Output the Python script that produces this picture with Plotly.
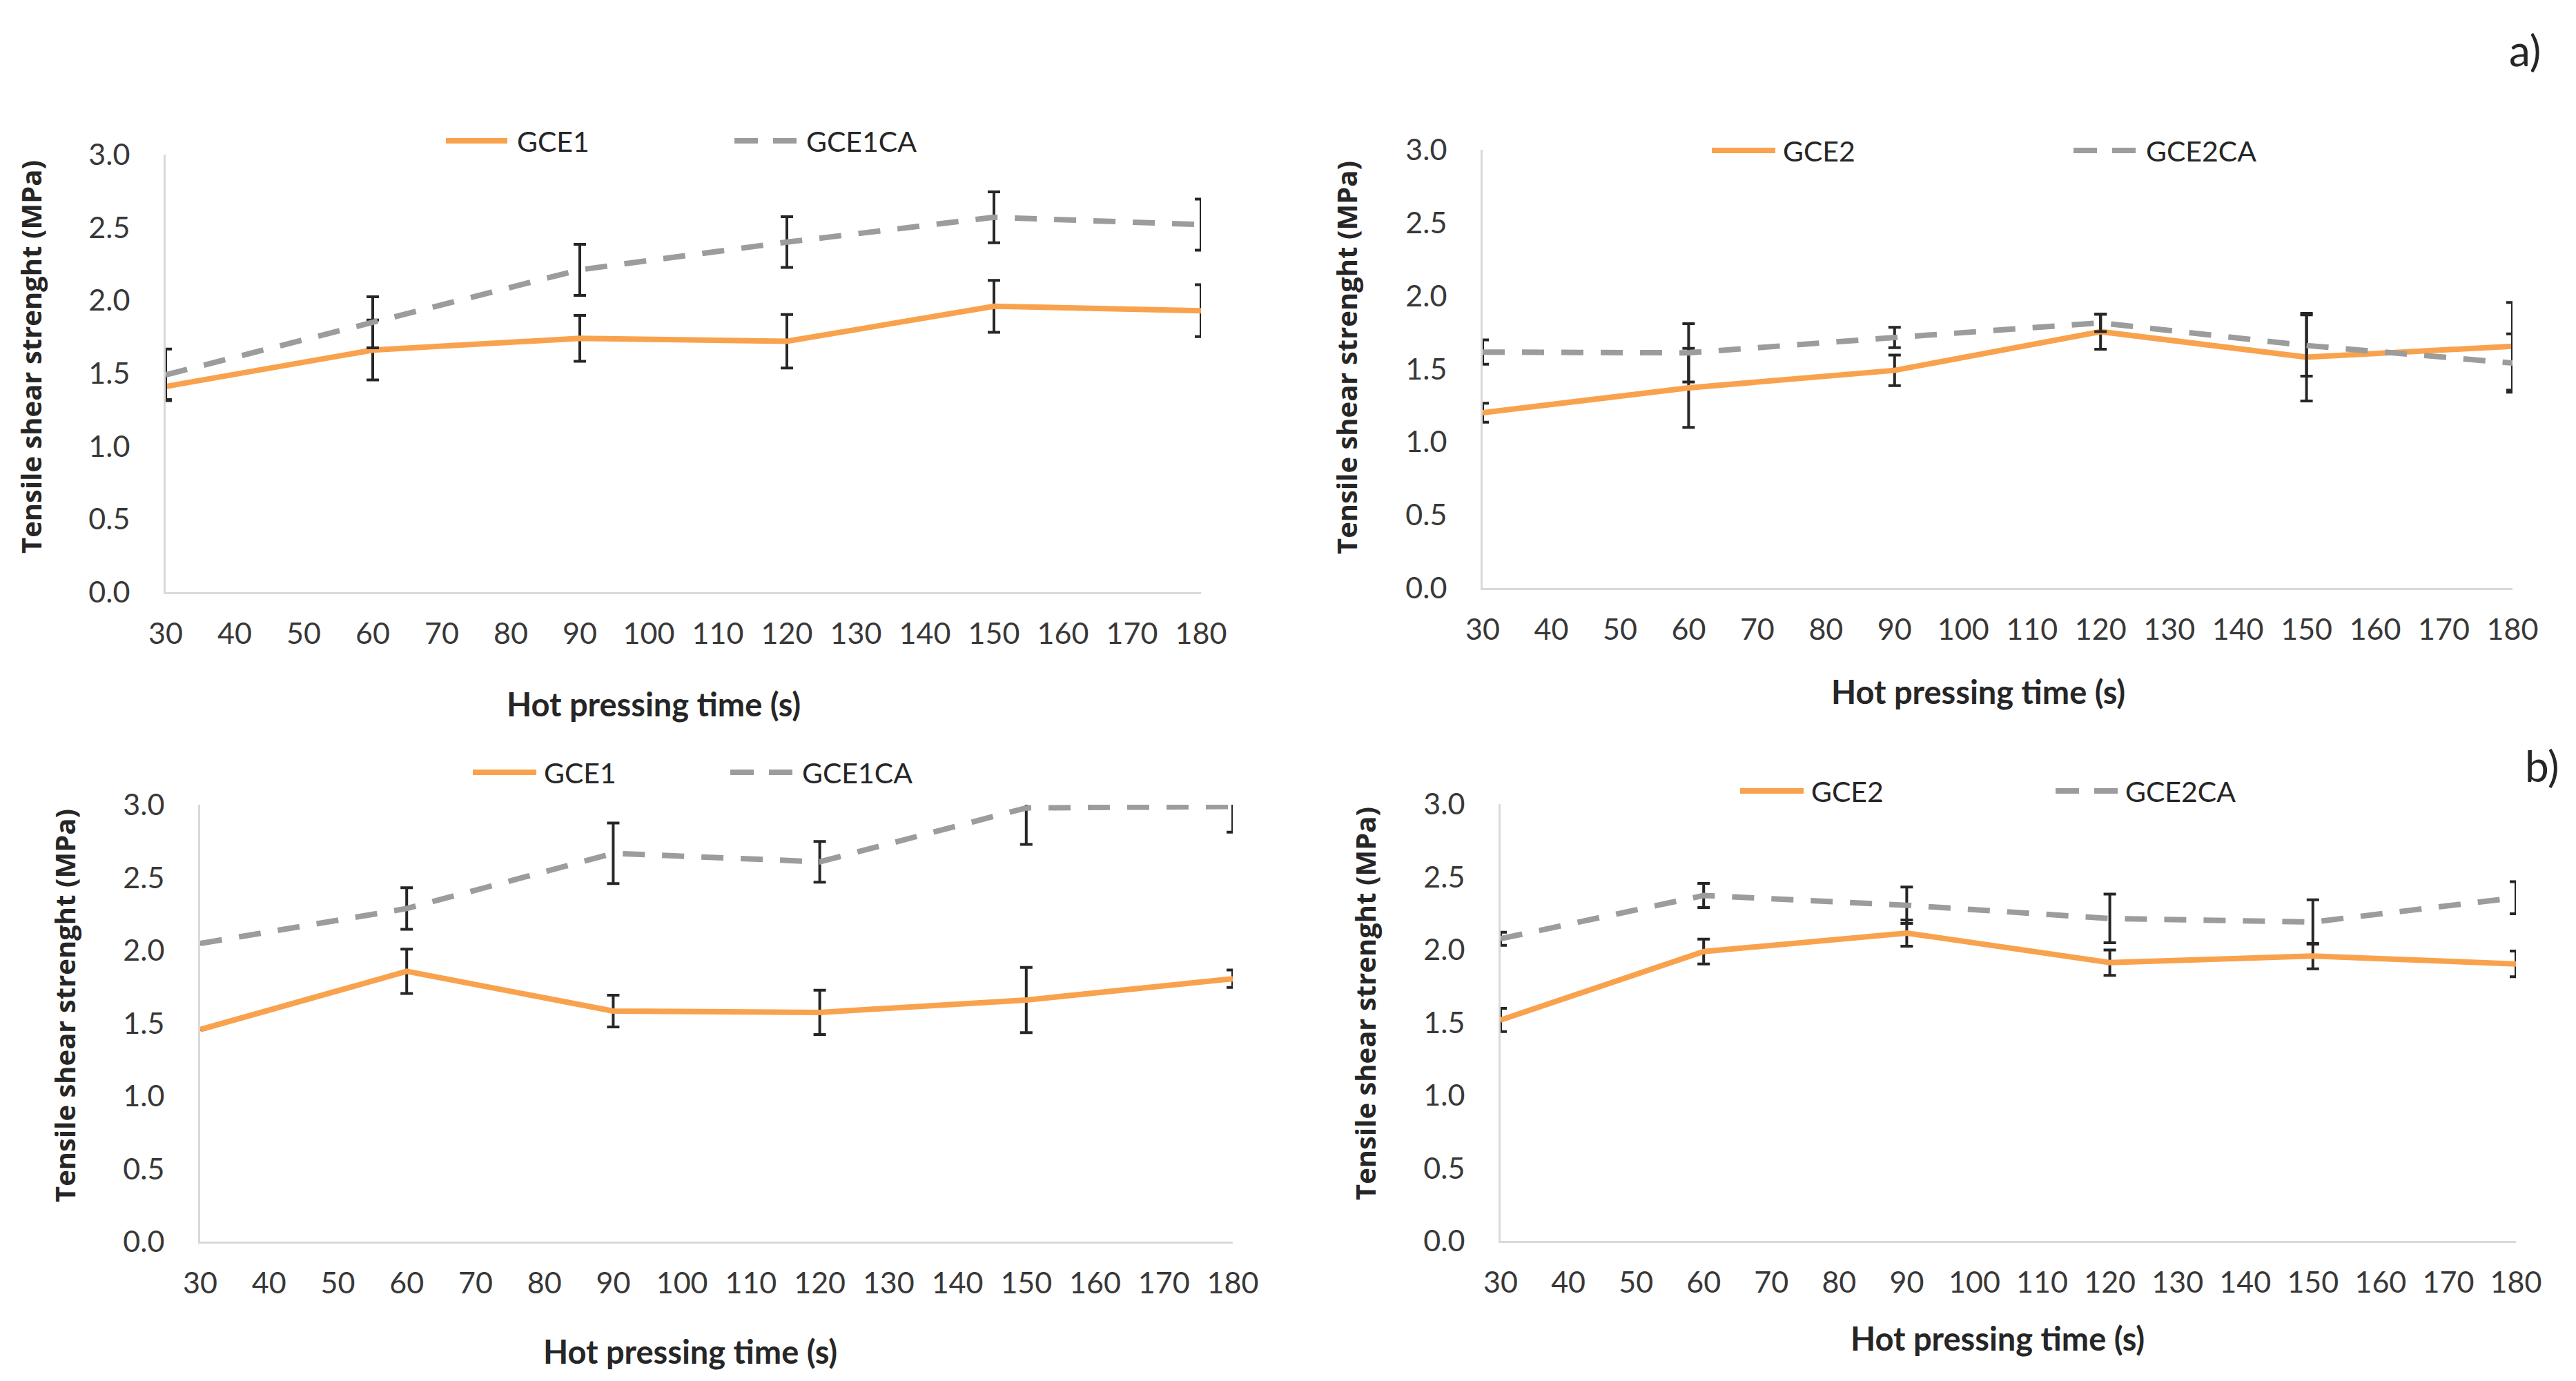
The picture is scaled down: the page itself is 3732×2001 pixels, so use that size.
import plotly.graph_objects as go

W, H = 3732, 2001

# ---------------- data ----------------
hot_time = [30, 60, 90, 120, 150, 180]
x_ticks = [30, 40, 50, 60, 70, 80, 90, 100, 110, 120, 130, 140, 150, 160, 170, 180]
y_ticks = [0.0, 0.5, 1.0, 1.5, 2.0, 2.5, 3.0]

# panel a) left
gce1_a = [1.41, 1.66, 1.74, 1.72, 1.96, 1.93]
gce1_a_err = [0.09, 0.205, 0.157, 0.183, 0.178, 0.178]
gce1ca_a = [1.49, 1.85, 2.21, 2.40, 2.57, 2.52]
gce1ca_a_err = [0.177, 0.175, 0.175, 0.174, 0.175, 0.175]
# panel a) right
gce2_a = [1.20, 1.37, 1.49, 1.755, 1.58, 1.655]
gce2_a_err = [0.065, 0.27, 0.104, 0.12, 0.30, 0.30]
gce2ca_a = [1.615, 1.61, 1.715, 1.815, 1.66, 1.54]
gce2ca_a_err = [0.083, 0.20, 0.07, 0.06, 0.21, 0.20]
# panel b) left
gce1_b = [1.456, 1.856, 1.583, 1.574, 1.659, 1.805]
gce1_b_err = [0.0, 0.152, 0.109, 0.152, 0.224, 0.06]
gce1ca_b = [2.047, 2.287, 2.666, 2.608, 2.978, 2.988]
gce1ca_b_err = [0.0, 0.143, 0.208, 0.14, 0.25, 0.176]
# panel b) right
gce2_b = [1.517, 1.987, 2.114, 1.911, 1.956, 1.902]
gce2_b_err = [0.08, 0.085, 0.09, 0.087, 0.087, 0.088]
gce2ca_b = [2.075, 2.372, 2.305, 2.214, 2.19, 2.357]
gce2ca_b_err = [0.045, 0.083, 0.125, 0.167, 0.152, 0.11]

y_title = "Tensile shear strenght (MPa)"
x_title = "Hot pressing time (s)"

# ---------------- styles ----------------
ORANGE = "#F9A24E"
GRAY = "#9C9C9C"
ERR = "#262626"
TXT = "#383838"
AXLINE = "#D9D9D9"
TICK_FONT = dict(family="Lato", size=43, color=TXT)
LEG_FONT = dict(family="Lato", size=41, color="#262626")


def px(x):
    return x / W


def py(y):
    return 1 - y / H


panels = [
    dict(ax="", xd=(240, 1740), yd=(224, 858),
         s=[("GCE1", gce1_a, gce1_a_err), ("GCE1CA", gce1ca_a, gce1ca_a_err)],
         leg=(204, 646, 735, 747, 1064, 1154, 1166), yt=(44, 517), xt=(947, 1020)),
    dict(ax="2", xd=(2148, 3640), yd=(217, 852),
         s=[("GCE2", gce2_a, gce2_a_err), ("GCE2CA", gce2ca_a, gce2ca_a_err)],
         leg=(218, 2480, 2572, 2581, 3004, 3098, 3107), yt=(1950, 518), xt=(2866, 1002)),
    dict(ax="3", xd=(290, 1786), yd=(1166, 1799),
         s=[("GCE1", gce1_b, gce1_b_err), ("GCE1CA", gce1ca_b, gce1ca_b_err)],
         leg=(1119, 685, 777, 786, 1058, 1150, 1160), yt=(93, 1457), xt=(1000, 1958)),
    dict(ax="4", xd=(2174, 3645), yd=(1165, 1798),
         s=[("GCE2", gce2_b, gce2_b_err), ("GCE2CA", gce2ca_b, gce2ca_b_err)],
         leg=(1146, 2521, 2613, 2622, 2978, 3068, 3077), yt=(1977, 1454), xt=(2894, 1939)),
]

fig = go.Figure()
layout = {}
shapes = []
annotations = []

for p in panels:
    a = p["ax"]
    xref, yref = "x" + a, "y" + a
    for i, (name, vals, errs) in enumerate(p["s"]):
        solid = i == 0
        fig.add_trace(go.Scatter(
            x=hot_time, y=vals, name=name, mode="lines",
            xaxis=xref, yaxis=yref, showlegend=False,
            line=dict(color=ORANGE if solid else GRAY, width=8,
                      dash="solid" if solid else "32px,25px"),
            error_y=dict(type="data", array=errs, visible=True,
                         color=ERR, thickness=4, width=9),
        ))
    layout["xaxis" + a] = dict(
        domain=[px(p["xd"][0]), px(p["xd"][1])], anchor=yref,
        range=[30, 180], tickmode="array", tickvals=x_ticks,
        ticktext=[str(v) for v in x_ticks],
        showline=True, linecolor=AXLINE, linewidth=3,
        showgrid=False, zeroline=False, ticks="", automargin=False,
        tickfont=TICK_FONT, ticklabelstandoff=20,
    )
    layout["yaxis" + a] = dict(
        domain=[py(p["yd"][1]), py(p["yd"][0])], anchor=xref,
        range=[0, 3], tickmode="array", tickvals=y_ticks,
        ticktext=["%.1f" % v for v in y_ticks],
        showline=True, linecolor=AXLINE, linewidth=3,
        showgrid=False, zeroline=False, ticks="", automargin=False,
        tickfont=TICK_FONT, ticklabelstandoff=40,
    )
    ly, s0, s1, t0, d0, d1, t1 = p["leg"]
    names = [s[0] for s in p["s"]]
    shapes.append(dict(type="line", xref="paper", yref="paper",
                       x0=px(s0), x1=px(s1), y0=py(ly), y1=py(ly),
                       line=dict(color=ORANGE, width=8)))
    shapes.append(dict(type="line", xref="paper", yref="paper",
                       x0=px(d0), x1=px(d1), y0=py(ly), y1=py(ly),
                       line=dict(color=GRAY, width=8, dash="34px,22px")))
    annotations.append(dict(xref="paper", yref="paper", x=px(t0), y=py(ly),
                            text=names[0], showarrow=False, xanchor="left",
                            yanchor="middle", font=LEG_FONT))
    annotations.append(dict(xref="paper", yref="paper", x=px(t1), y=py(ly),
                            text=names[1], showarrow=False, xanchor="left",
                            yanchor="middle", font=LEG_FONT))
    annotations.append(dict(xref="paper", yref="paper", x=px(p["yt"][0]), y=py(p["yt"][1]),
                            text="<b>%s</b>" % y_title, showarrow=False, textangle=-90,
                            xanchor="center", yanchor="middle",
                            font=dict(family="Open Sans", size=40, color="#262626")))
    annotations.append(dict(xref="paper", yref="paper", x=px(p["xt"][0]), y=py(p["xt"][1]),
                            text="<b>%s</b>" % x_title, showarrow=False,
                            xanchor="center", yanchor="middle",
                            font=dict(family="Lato", size=47, color="#262626")))

annotations.append(dict(xref="paper", yref="paper", x=px(3658), y=py(72), text="a)",
                        showarrow=False, xanchor="center", yanchor="middle",
                        font=dict(family="Lato", size=62, color="#262626")))
annotations.append(dict(xref="paper", yref="paper", x=px(3682), y=py(1109), text="b)",
                        showarrow=False, xanchor="center", yanchor="middle",
                        font=dict(family="Lato", size=62, color="#262626")))

fig.update_layout(
    width=W, height=H,
    margin=dict(l=0, r=0, t=0, b=0, pad=0, autoexpand=False),
    paper_bgcolor="white", plot_bgcolor="white",
    showlegend=False, shapes=shapes, annotations=annotations, **layout,
)

fig.write_html("out.html", config={"responsive": False, "displayModeBar": False},
               post_script="document.body.style.margin='0px';")
